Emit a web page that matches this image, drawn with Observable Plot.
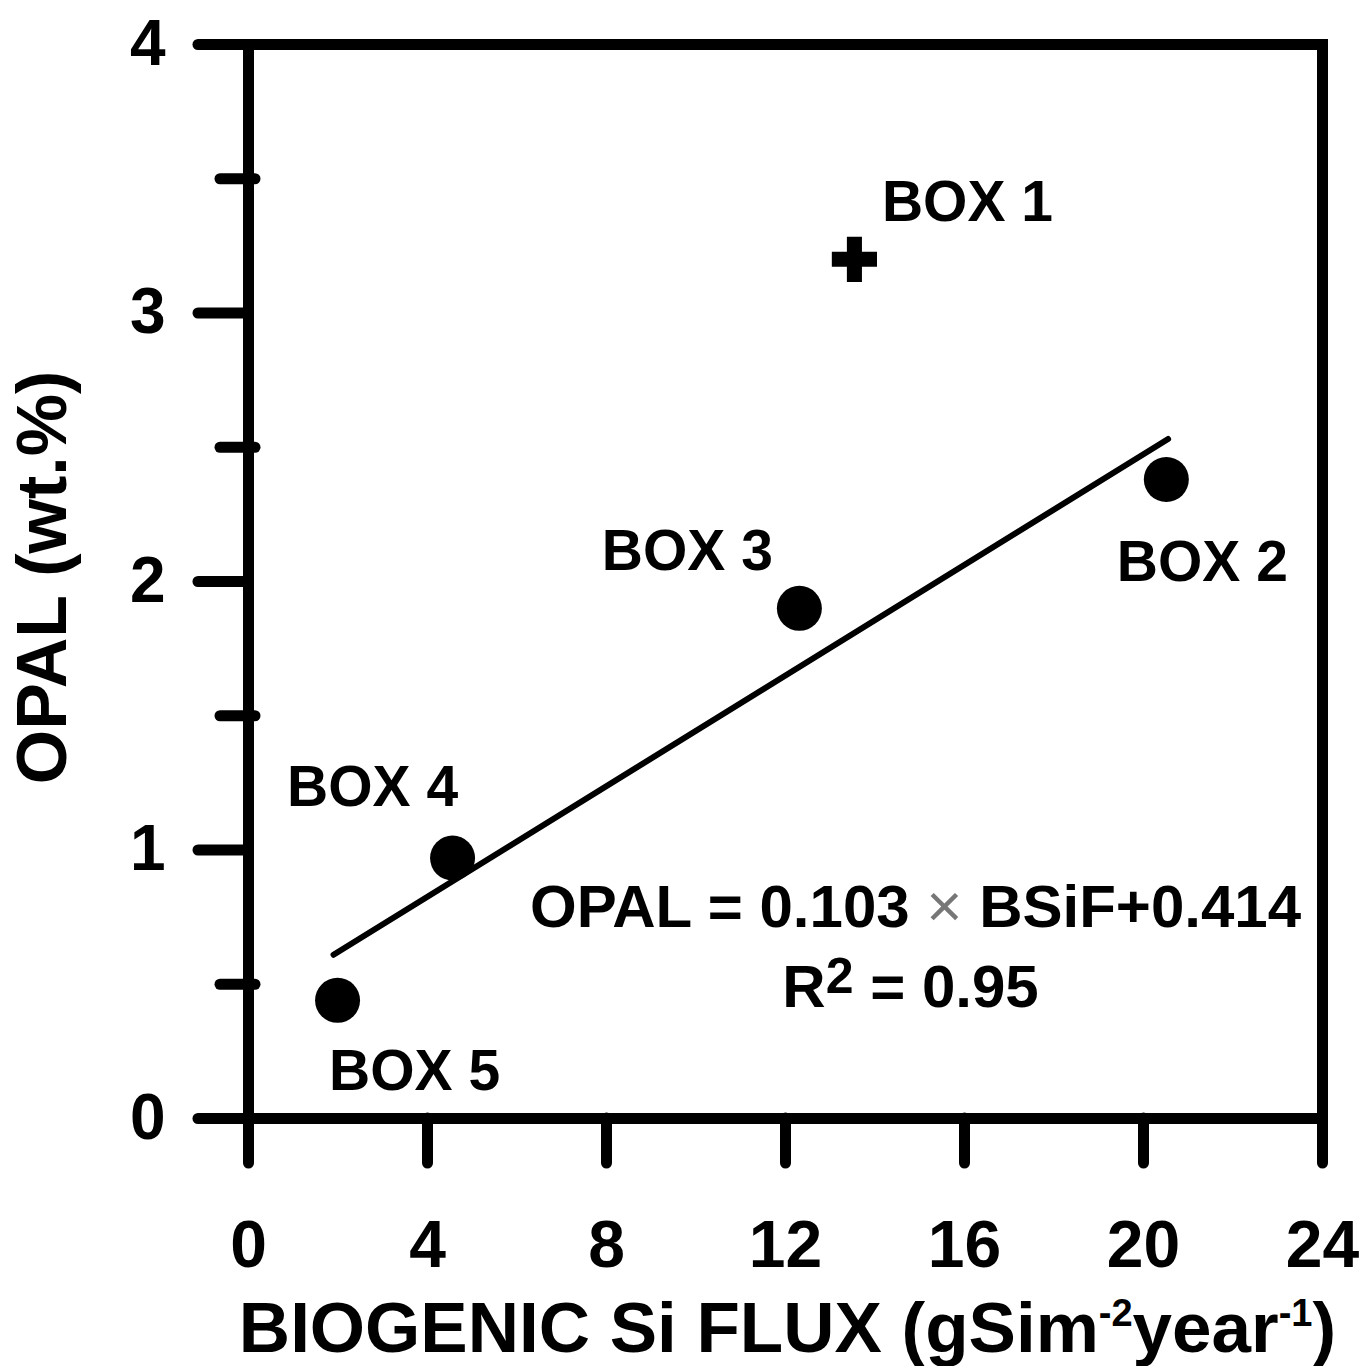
<!DOCTYPE html>
<html>
<head>
<meta charset="utf-8">
<script src="https://cdn.jsdelivr.net/npm/d3@7"></script>
<script src="https://cdn.jsdelivr.net/npm/@observablehq/plot@0.6"></script>
<style>
  html, body { margin: 0; padding: 0; background: #fff; }
  #chart svg { display: block; }
</style>
</head>
<body>
<div id="chart"></div>
<script>
// ---- data ----
const boxes   = ["BOX 1", "BOX 2", "BOX 3", "BOX 4", "BOX 5"];
const flux    = [13.54, 20.51, 12.31, 4.56, 1.99];   // g Si m-2 year-1
const opal    = [3.20, 2.38, 1.90, 0.97, 0.44];      // wt.%
const markers = ["cross", "circle", "circle", "circle", "circle"];
const xTicks = [0, 4, 8, 12, 16, 20, 24];
const yTicks = [0, 1, 2, 3, 4];
const yMinorTicks = [0.5, 1.5, 2.5, 3.5];
const slope = 0.103, intercept = 0.414, r2 = 0.95;
const fitRange = [1.9, 20.55];
const xTitle = "BIOGENIC Si FLUX (gSim-2year-1)";
const yTitle = "OPAL (wt.%)";
const eqText = "OPAL = 0.103 × BSiF+0.414";
const r2Text = "R2 = 0.95";

// ---- styles ----
const FONT = "'Liberation Sans', Arial, Helvetica, sans-serif";
const labelOffsets = {
  "BOX 1": [113, -57],
  "BOX 2": [36, 83],
  "BOX 3": [-112, -57],
  "BOX 4": [-80, -70],
  "BOX 5": [77, 71]
};

const data = boxes.map((name, i) => ({name, flux: flux[i], opal: opal[i], marker: markers[i]}));
const fit = fitRange.map(x => ({x, y: slope * x + intercept}));

const labelMarks = boxes.map(name => Plot.text(data, {
  filter: d => d.name === name,
  x: "flux", y: "opal", text: "name",
  dx: labelOffsets[name][0], dy: labelOffsets[name][1],
  fontSize: 57, fontWeight: "bold", fontFamily: FONT,
  textAnchor: "middle", lineAnchor: "middle", fill: "black"
}));

const chart = Plot.plot({
  width: 1367,
  height: 1366,
  marginLeft: 248,
  marginRight: 45,
  marginTop: 44,
  marginBottom: 248,
  style: {background: "white", color: "black", fontFamily: FONT},
  x: {domain: [0, 24]},
  y: {domain: [0, 4]},
  marks: [
    Plot.frame({strokeWidth: 11, stroke: "black"}),
    Plot.axisX({
      ticks: xTicks, tickSize: 45, tickPadding: 57, strokeWidth: 11, strokeLinecap: "round",
      tickFormat: d => String(d), label: null,
      fontSize: 66, fontWeight: "bold", fontFamily: FONT
    }),
    Plot.axisY({
      ticks: yTicks, tickSize: 50, tickPadding: 33, strokeWidth: 11, strokeLinecap: "round",
      tickFormat: d => String(d), label: null,
      fontSize: 64, fontWeight: "bold", fontFamily: FONT
    }),
    Plot.axisY({
      ticks: yMinorTicks, tickSize: 35, dx: 7, strokeWidth: 11, strokeLinecap: "round",
      tickFormat: () => "", label: null
    }),
    Plot.line(fit, {x: "x", y: "y", stroke: "black", strokeWidth: 6}),
    Plot.dot(data, {filter: d => d.marker === "circle", x: "flux", y: "opal", r: 22.5, fill: "black", stroke: null}),
    Plot.dot(data, {filter: d => d.marker === "cross", x: "flux", y: "opal", symbol: "cross", r: 19, fill: "black", stroke: null}),
    ...labelMarks,
    Plot.text([eqText], {
      frameAnchor: "bottom", dx: 130, dy: -211, textAnchor: "middle", lineAnchor: "middle",
      fontSize: 60, fontWeight: "bold", fontFamily: FONT
    }),
    Plot.text([r2Text], {
      frameAnchor: "bottom", dx: 125, dy: -131, textAnchor: "middle", lineAnchor: "middle",
      fontSize: 60, fontWeight: "bold", fontFamily: FONT
    }),
    Plot.text([xTitle], {
      frameAnchor: "bottom", dx: 2, dy: 211, textAnchor: "middle", lineAnchor: "middle",
      fontSize: 71, fontWeight: "bold", fontFamily: FONT
    }),
    Plot.text([yTitle], {
      frameAnchor: "left", dx: -205, dy: -4, rotate: -90, textAnchor: "middle", lineAnchor: "middle",
      fontSize: 70, fontWeight: "bold", fontFamily: FONT
    })
  ]
});

// ---- rich text (superscripts, thin multiplication sign) ----
function rich(svg, key, parts) {
  d3.select(svg).selectAll("text")
    .filter(function () { return this.textContent === key; })
    .each(function () {
      const t = d3.select(this);
      t.text(null);
      for (const p of parts) {
        const s = t.append("tspan").text(p.text);
        if (p.dy != null) s.attr("dy", p.dy);
        if (p.size != null) s.attr("font-size", p.size);
        if (p.weight != null) s.attr("font-weight", p.weight);
        if (p.fill != null) s.attr("fill", p.fill);
        if (p.family != null) s.attr("font-family", p.family);
      }
    });
}
rich(chart, xTitle, [
  {text: "BIOGENIC Si FLUX (gSim"},
  {text: "-2", size: 38, dy: -26},
  {text: "year", dy: 26},
  {text: "-1", size: 38, dy: -26},
  {text: ")", dy: 26}
]);
rich(chart, r2Text, [
  {text: "R"},
  {text: "2", size: 50, dy: -14},
  {text: " = 0.95", dy: 14}
]);
rich(chart, eqText, [
  {text: "OPAL = 0.103 "},
  {text: "×", weight: "normal", fill: "#777", size: 62},
  {text: " BSiF+0.414"}
]);

document.getElementById("chart").appendChild(chart);
</script>
</body>
</html>
